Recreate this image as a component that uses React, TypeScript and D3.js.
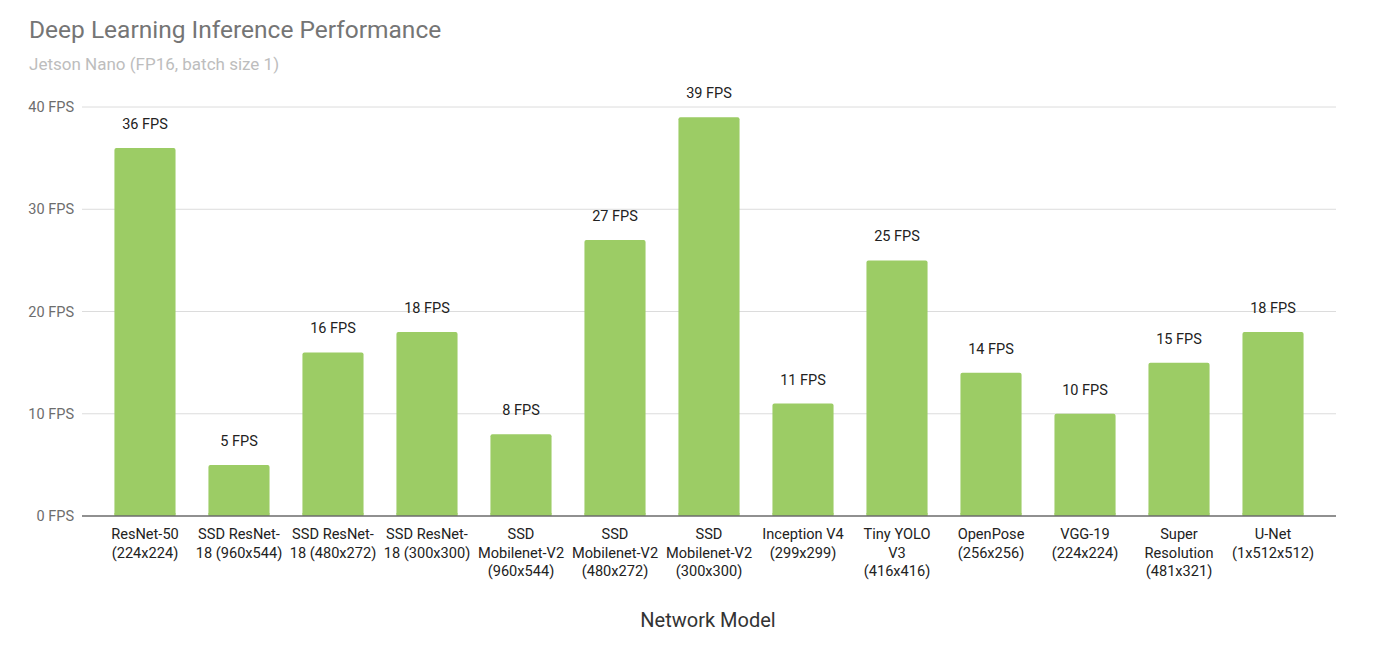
import React from "react";
import * as d3 from "d3";

const categories: string[][] = [
  ["ResNet-50", "(224x224)"],
  ["SSD ResNet-", "18 (960x544)"],
  ["SSD ResNet-", "18 (480x272)"],
  ["SSD ResNet-", "18 (300x300)"],
  ["SSD", "Mobilenet-V2", "(960x544)"],
  ["SSD", "Mobilenet-V2", "(480x272)"],
  ["SSD", "Mobilenet-V2", "(300x300)"],
  ["Inception V4", "(299x299)"],
  ["Tiny YOLO", "V3", "(416x416)"],
  ["OpenPose", "(256x256)"],
  ["VGG-19", "(224x224)"],
  ["Super", "Resolution", "(481x321)"],
  ["U-Net", "(1x512x512)"],
];
const fps: number[] = [36, 5, 16, 18, 8, 27, 39, 11, 25, 14, 10, 15, 18];
const yTicks: number[] = [0, 10, 20, 30, 40];

const W = 1400;
const H = 659;
const left = 82;
const right = 1336;
const top = 107;
const bottom = 516;
const font = "Roboto, 'Noto Sans', sans-serif";

export default function App() {
  const ids = categories.map((_, i) => String(i));
  const x = d3.scaleBand<string>().domain(ids).range([left, right]).paddingInner(0.35).paddingOuter(0.345);
  const y = d3.scaleLinear().domain([0, 40]).range([bottom, top]);
  return (
    <svg width={W} height={H} style={{ position: "absolute", left: 0, top: 0, background: "#fff" }} fontFamily={font}>
      <text x={29} y={38} fontSize={24.5} fill="#757575">Deep Learning Inference Performance</text>
      <text x={29} y={70} fontSize={17} fill="#bdbdbd">Jetson Nano (FP16, batch size 1)</text>
      {yTicks.map((t) => (
        <g key={t}>
          {t > 0 && <line x1={left} x2={right} y1={y(t)} y2={y(t)} stroke="#dcdcdc" strokeWidth={1} />}
          <text x={74} y={y(t)} dy="0.35em" textAnchor="end" fontSize={14.5} fill="#6d6d6d">{`${t} FPS`}</text>
        </g>
      ))}
      {fps.map((v, i) => {
        const bx = x(String(i))!;
        const bw = x.bandwidth();
        return (
          <g key={i}>
            <rect x={bx} y={y(v)} width={bw} height={bottom - y(v)} fill="#9ccc65" rx={2} ry={2} />
            <rect x={bx} y={Math.max(y(v), bottom - 3)} width={bw} height={Math.min(3, bottom - y(v))} fill="#9ccc65" />
            <text x={bx + bw / 2} y={y(v) - 19} textAnchor="middle" fontSize={14.5} fill="#222">{`${v} FPS`}</text>
            {categories[i].map((ln, j) => (
              <text key={j} x={bx + bw / 2} y={539 + j * 18.5} textAnchor="middle" fontSize={14.6} fill="#222">{ln}</text>
            ))}
          </g>
        );
      })}
      <line x1={left} x2={right} y1={bottom} y2={bottom} stroke="#6b6b6b" strokeWidth={1.5} />
      <text x={708} y={627} textAnchor="middle" fontSize={20} fill="#333">Network Model</text>
    </svg>
  );
}
